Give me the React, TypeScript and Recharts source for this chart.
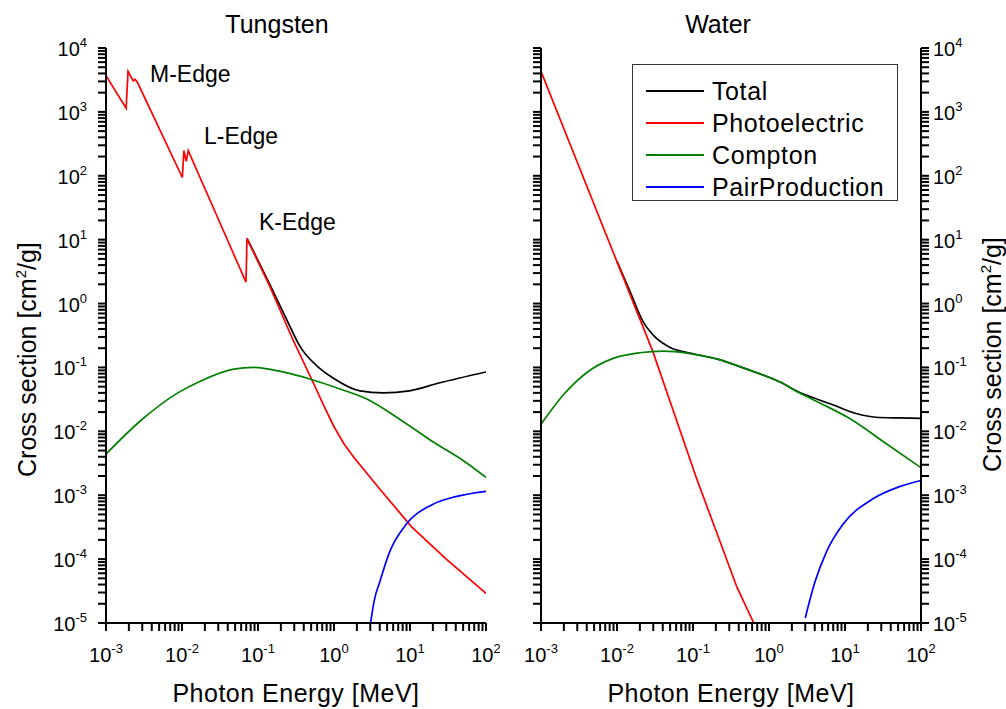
import React from "react";
import { LineChart, Line, XAxis, YAxis, Legend } from "recharts";

type Pt = [number, number];

const FONT = "'Liberation Sans', Arial, sans-serif";

const xDecades = [-3, -2, -1, 0, 1, 2];
const yDecades = [-5, -4, -3, -2, -1, 0, 1, 2, 3, 4];
const minorSteps = [2, 3, 4, 5, 6, 7, 8, 9];

const seriesNames = ["Total", "Photoelectric", "Compton", "PairProduction"];
const seriesColors = ["#000000", "#ff0000", "#008000", "#0000ff"];
const seriesCurves = ["monotone", "linear", "monotone", "monotone"] as const;

// Tungsten, [energy MeV, cm2/g]
const wTotal: Pt[] = [
  [0.0716, 10.5], [0.1445, 1.95], [0.25, 0.5], [0.36, 0.21], [0.6, 0.105],
  [0.96, 0.069], [2.2, 0.043], [4.4, 0.04], [9.8, 0.043], [24, 0.057], [100, 0.085],
];
const wPhoto: Pt[] = [
  [0.001, 3700], [0.00184, 1140], [0.00195, 4300], [0.00228, 3050], [0.00241, 3250],
  [0.0026, 2880], [0.0101, 94], [0.0106, 248], [0.01137, 168], [0.01208, 248],
  [0.0304, 20.3], [0.0695, 2.17], [0.0716, 10.4], [0.1445, 1.81], [0.292, 0.262],
  [0.49, 0.0715], [0.75, 0.024], [1.0, 0.0118], [1.35, 0.0064], [1.8, 4.0e-3],
  [4.0, 1.25e-3], [10.5, 3.2e-4], [30, 1.0e-4], [100, 2.9e-5],
];
const wCompton: Pt[] = [
  [0.001, 0.0044], [0.0029, 0.0149], [0.0088, 0.04], [0.0174, 0.061], [0.048, 0.094],
  [0.087, 0.1], [0.21, 0.085], [0.48, 0.066], [1.2, 0.046], [2.7, 0.032],
  [7.3, 0.0155], [19.5, 0.007], [50, 0.0035], [100, 0.0019],
];
const wPair: Pt[] = [
  [3.03, 1.0e-5], [3.4, 2.3e-5], [4.0, 4.4e-5], [5.4, 1.3e-4], [8.9, 3.5e-4],
  [19.5, 7.1e-4], [40, 9.5e-4], [100, 1.15e-3],
];

// Water
const hTotal: Pt[] = [
  [0.01, 4.6], [0.015, 1.5], [0.022, 0.52], [0.03, 0.32], [0.05, 0.205],
  [0.091, 0.168], [0.21, 0.135], [0.51, 0.094], [1.4, 0.059], [2.5, 0.041],
  [4.6, 0.031], [6.9, 0.026], [14, 0.019], [25.5, 0.0166], [50, 0.0162], [100, 0.016],
];
const hPhoto: Pt[] = [
  [0.001, 4300], [0.003, 163], [0.01, 4.5], [0.0295, 0.18], [0.055, 0.021],
  [0.112, 1.8e-3], [0.21, 2.4e-4], [0.38, 3.6e-5], [0.63, 1.0e-5],
];
const hCompton: Pt[] = [
  [0.001, 0.0129], [0.002, 0.038], [0.0041, 0.085], [0.0091, 0.14], [0.02, 0.17],
  [0.041, 0.18], [0.091, 0.165], [0.21, 0.135], [0.51, 0.094], [1.4, 0.059],
  [2.5, 0.04], [4.6, 0.028], [11.4, 0.016], [35, 0.0064], [100, 0.0027],
];
const hPair: Pt[] = [
  [3.0, 1.2e-5], [4.0, 4.3e-5], [5.7, 1.3e-4], [9.4, 3.5e-4], [23, 8.7e-4],
  [51, 1.35e-3], [100, 1.7e-3],
];

const toPts = (a: Pt[]) => a.map(([x, y]) => ({ x, y }));

const withMinor = (decs: number[]) =>
  decs.flatMap((d, i) =>
    i === decs.length - 1 ? [10 ** d] : [10 ** d, ...minorSteps.map((m) => m * 10 ** d)]
  );

const xTicks = withMinor(xDecades);
const yTicks = withMinor(yDecades);
const isMajor = (v: number) => Math.abs(Math.log10(v) - Math.round(Math.log10(v))) < 1e-9;

const TS = 8; // tick length, drawn by the axes themselves

const Pow = ({ v }: { v: number }) => (
  <>
    10
    <tspan dy={-9} fontSize={13}>
      {Math.round(Math.log10(v))}
    </tspan>
  </>
);

// labels only, the tick marks come from tickLine
const XLabel = (props: any) => {
  const { x, y, payload, labels } = props;
  const v = payload.value;
  if (!labels || !isMajor(v)) return <g />;
  return (
    <text x={x} y={y - TS + 39} textAnchor="middle" fontSize={20} fontFamily={FONT} fill="#000">
      <Pow v={v} />
    </text>
  );
};

const YLabelLeft = (props: any) => {
  const { x, y, payload, labels } = props;
  const v = payload.value;
  if (!labels || !isMajor(v)) return <g />;
  return (
    <text x={x + TS - 19} y={y + 8} textAnchor="end" fontSize={20} fontFamily={FONT} fill="#000">
      <Pow v={v} />
    </text>
  );
};

const YLabelRight = (props: any) => {
  const { x, y, payload, labels } = props;
  const v = payload.value;
  if (!labels || !isMajor(v)) return <g />;
  return (
    <text x={x - TS + 12} y={y + 8} textAnchor="start" fontSize={20} fontFamily={FONT} fill="#000">
      <Pow v={v} />
    </text>
  );
};

const renderLegend = (props: any) => {
  const items = [...(props.payload || [])].sort(
    (a: any, b: any) => seriesNames.indexOf(a.value) - seriesNames.indexOf(b.value)
  );
  return (
    <div
      style={{
        width: 266,
        height: 137,
        border: "1px solid #333",
        background: "#fff",
        paddingTop: 10,
        boxSizing: "border-box",
        fontFamily: FONT,
      }}
    >
      {items.map((p: any) => (
        <div key={p.value} style={{ display: "flex", alignItems: "center", height: 32 }}>
          <svg width={79} height={32} style={{ flex: "none" }}>
            <line x1={13} x2={71} y1={16} y2={16} stroke={p.color} strokeWidth={2} />
          </svg>
          <span style={{ fontSize: 25, letterSpacing: 0.6, color: "#000", whiteSpace: "nowrap" }}>
            {p.value}
          </span>
        </div>
      ))}
    </div>
  );
};

const axisLine = { stroke: "#000", strokeWidth: 2 };
const tickLine = { stroke: "#000", strokeWidth: 2 };

const Panel = ({
  sets,
  width,
  leftW,
  rightW,
  marginRight,
  labelSide,
  legend,
}: {
  sets: Pt[][];
  width: number;
  leftW: number;
  rightW: number;
  marginRight: number;
  labelSide: "left" | "right";
  legend?: boolean;
}) => (
  <LineChart width={width} height={709} margin={{ top: 48, right: marginRight, bottom: 0, left: 0 }}>
    <XAxis
      xAxisId="b"
      dataKey="x"
      type="number"
      scale="log"
      domain={[1e-3, 1e2]}
      allowDataOverflow
      ticks={xTicks}
      interval={0}
      height={86}
      tickLine={tickLine}
      tickSize={TS}
      tickMargin={0}
      axisLine={axisLine}
      tick={(p: any) => <XLabel {...p} labels />}
    />
    <XAxis
      xAxisId="t"
      orientation="top"
      mirror
      dataKey="x"
      type="number"
      scale="log"
      domain={[1e-3, 1e2]}
      allowDataOverflow
      ticks={xTicks}
      interval={0}
      height={0}
      tickLine={tickLine}
      tickSize={TS}
      tickMargin={0}
      axisLine={axisLine}
      tick={(p: any) => <XLabel {...p} />}
    />
    <YAxis
      yAxisId="l"
      type="number"
      scale="log"
      domain={[1e-5, 1e4]}
      allowDataOverflow
      ticks={yTicks}
      interval={0}
      width={leftW}
      tickLine={tickLine}
      tickSize={TS}
      tickMargin={0}
      axisLine={axisLine}
      tick={(p: any) => <YLabelLeft {...p} labels={labelSide === "left"} />}
    />
    <YAxis
      yAxisId="r"
      orientation="right"
      type="number"
      scale="log"
      domain={[1e-5, 1e4]}
      allowDataOverflow
      ticks={yTicks}
      interval={0}
      width={rightW}
      tickLine={tickLine}
      tickSize={TS}
      tickMargin={0}
      axisLine={axisLine}
      tick={(p: any) => <YLabelRight {...p} labels={labelSide === "right"} />}
    />
    {sets.map((s, i) => (
      <Line
        key={seriesNames[i]}
        xAxisId="b"
        yAxisId="l"
        data={toPts(s)}
        dataKey="y"
        name={seriesNames[i]}
        type={seriesCurves[i]}
        stroke={seriesColors[i]}
        strokeWidth={1.7}
        dot={false}
        activeDot={false}
        isAnimationActive={false}
      />
    ))}
    {legend && (
      <Legend
        layout="horizontal"
        align="center"
        verticalAlign="middle"
        content={renderLegend}
        wrapperStyle={{ position: "absolute", left: 132, top: 64, width: 266, height: 137 }}
      />
    )}
  </LineChart>
);

const txt = { fontFamily: FONT, fill: "#000" };

export default function App() {
  return (
    <div style={{ position: "absolute", left: 0, top: 0, width: 1006, height: 709, background: "#fff" }}>
      <div style={{ position: "absolute", left: 0, top: 0 }}>
        <Panel
          sets={[wTotal, wPhoto, wCompton, wPair]}
          width={500}
          leftW={106}
          rightW={0}
          marginRight={14}
          labelSide="left"
        />
      </div>
      <div style={{ position: "absolute", left: 500, top: 0 }}>
        <Panel
          sets={[hTotal, hPhoto, hCompton, hPair]}
          width={506}
          leftW={41}
          rightW={85}
          marginRight={0}
          labelSide="right"
          legend
        />
      </div>
      <svg
        width={1006}
        height={709}
        style={{ position: "absolute", left: 0, top: 0, pointerEvents: "none" }}
      >
        <text x={277} y={33} textAnchor="middle" fontSize={25} {...txt}>Tungsten</text>
        <text x={718} y={33} textAnchor="middle" fontSize={25} {...txt}>Water</text>
        <text x={296} y={702} textAnchor="middle" fontSize={25} letterSpacing={0.5} {...txt}>
          Photon Energy [MeV]
        </text>
        <text x={731} y={702} textAnchor="middle" fontSize={25} letterSpacing={0.5} {...txt}>
          Photon Energy [MeV]
        </text>
        <text x={150} y={82} fontSize={23} {...txt}>M-Edge</text>
        <text x={204} y={144} fontSize={23} {...txt}>L-Edge</text>
        <text x={259} y={230} fontSize={23} {...txt}>K-Edge</text>
        <text transform="translate(36,477) rotate(-90)" fontSize={25} {...txt}>
          Cross section [cm<tspan dy={-10} fontSize={15}>2</tspan>
          <tspan dy={10}>/g]</tspan>
        </text>
        <text transform="translate(1001,472) rotate(-90)" fontSize={25} {...txt}>
          Cross section [cm<tspan dy={-10} fontSize={15}>2</tspan>
          <tspan dy={10}>/g]</tspan>
        </text>
      </svg>
    </div>
  );
}
